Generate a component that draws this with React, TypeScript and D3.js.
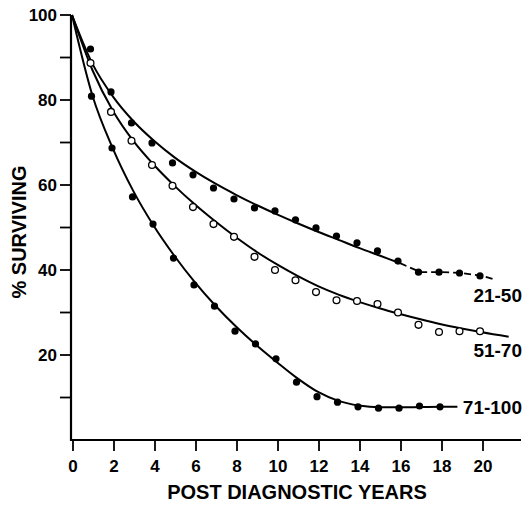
import React from 'react';
import * as d3 from 'd3';

// ---- data ----
const years = [1, 2, 3, 4, 5, 6, 7, 8, 9, 10, 11, 12, 13, 14, 15, 16, 17, 18, 19, 20];
const age21to50 = [92.0, 81.9, 74.6, 69.9, 65.2, 62.4, 59.3, 56.7, 54.6, 53.9, 51.8, 49.9, 48.0, 46.4, 44.5, 42.1, 39.5, 39.5, 39.3, 38.6];
const age51to70 = [88.7, 77.2, 70.4, 64.7, 59.8, 54.8, 50.8, 47.8, 43.1, 40.0, 37.6, 34.8, 32.9, 32.7, 32.0, 30.0, 27.1, 25.4, 25.6, 25.6];
const yearsOld = [1, 2, 3, 4, 5, 6, 7, 8, 9, 10, 11, 12, 13, 14, 15, 16, 17, 18];
const age71to100 = [80.9, 68.7, 57.2, 50.8, 42.8, 36.5, 31.5, 25.6, 22.6, 19.1, 13.6, 10.2, 8.9, 7.8, 7.5, 7.5, 8.0, 7.8];

// fitted curves
const fit21Years = [0, 1, 2, 3, 4, 5, 6, 7, 8, 9, 10, 11, 12, 13, 14, 15, 16];
const fit21Values = [100, 88.5, 80.8, 75.0, 70.4, 66.5, 63.2, 60.3, 57.7, 55.3, 53.1, 51.0, 49.0, 47.1, 45.2, 43.4, 41.6];
const tail21Years = [16, 17, 18, 19, 20, 20.6];
const tail21Values = [41.6, 39.5, 39.5, 39.3, 38.6, 37.8];
const fit51Years = [0, 1, 2, 3, 4, 5, 6, 7, 8, 9, 10, 11, 12, 13, 14, 15, 16, 17, 18, 19, 20, 21.3];
const fit51Values = [100, 87, 77.4, 70.3, 64.7, 59.8, 55.4, 51.4, 47.7, 44.3, 41.3, 38.6, 36.2, 34.2, 32.5, 31.0, 29.65, 28.4, 27.25, 26.25, 25.35, 24.3];
const fit71Years = [0, 1, 2, 3, 4, 5, 6, 7, 8, 9, 10, 11, 12, 13, 14, 15, 16, 17, 18, 18.8];
const fit71Values = [100, 81, 68.5, 58.5, 50.3, 43.3, 37.1, 31.6, 26.7, 22.3, 18.3, 14.5, 11.3, 9.2, 8.1, 7.7, 7.7, 7.75, 7.8, 7.8];

const xTicks = [0, 2, 4, 6, 8, 10, 12, 14, 16, 18, 20];
const yTicks = [10, 20, 30, 40, 50, 60, 70, 80, 90, 100];
const yTickLabels = [20, 40, 60, 80, 100];
const seriesLabels = ['21-50', '51-70', '71-100'];
const seriesLabelAt = [38.6, 25.6, 7.7];

const W = 524;
const H = 508;
const FONT = '"Liberation Sans", Arial, Helvetica, sans-serif';

export default function App() {
  const x = d3.scaleLinear().domain([0, 20]).range([72, 482]);
  const y = d3.scaleLinear().domain([0, 100]).range([440, 15]);

  const line = d3
    .line<[number, number]>()
    .x((d) => x(d[0]))
    .y((d) => y(d[1]))
    .curve(d3.curveMonotoneX);
  const straight = d3
    .line<[number, number]>()
    .x((d) => x(d[0]))
    .y((d) => y(d[1]));

  const zip = (a: number[], b: number[]) => a.map((v, i) => [v, b[i]] as [number, number]);

  const axisLeft = x(0) - 1;
  const axisBottom = y(0);

  const labelY = [y(seriesLabelAt[0]) + 26, y(seriesLabelAt[1]) + 26, y(seriesLabelAt[2]) + 7];

  return (
    <svg width={W} height={H} style={{ position: 'absolute', left: 0, top: 0, background: '#fff' }}>
      <rect x={0} y={0} width={W} height={H} fill="#fff" />
      {/* axes */}
      <line x1={axisLeft} y1={y(100)} x2={axisLeft} y2={axisBottom + 1} stroke="#000" strokeWidth={2.2} />
      <line x1={axisLeft} y1={axisBottom} x2={521} y2={axisBottom} stroke="#000" strokeWidth={2.2} />
      {yTicks.map((t) => (
        <line key={'yt' + t} x1={axisLeft - 11} x2={axisLeft} y1={y(t)} y2={y(t)} stroke="#000" strokeWidth={1.8} />
      ))}
      {yTickLabels.map((t) => (
        <text
          key={'yl' + t}
          x={axisLeft - 14}
          y={y(t) + 6}
          textAnchor="end"
          fontFamily={FONT}
          fontWeight="bold"
          fontSize={17}
        >
          {t}
        </text>
      ))}
      {xTicks.map((t) => (
        <line key={'xt' + t} x1={x(t) + 1} x2={x(t) + 1} y1={axisBottom} y2={axisBottom + 11} stroke="#000" strokeWidth={1.8} />
      ))}
      {xTicks.map((t) => (
        <text
          key={'xl' + t}
          x={x(t) + 1}
          y={472}
          textAnchor="middle"
          fontFamily={FONT}
          fontWeight="bold"
          fontSize={17}
        >
          {t}
        </text>
      ))}
      <text x={297} y={499} textAnchor="middle" fontFamily={FONT} fontWeight="bold" fontSize={20}>
        POST DIAGNOSTIC YEARS
      </text>
      <text
        transform={`translate(26,232) rotate(-90)`}
        textAnchor="middle"
        fontFamily={FONT}
        fontWeight="bold"
        fontSize={20}
      >
        % SURVIVING
      </text>

      {/* fitted curves */}
      <path d={line(zip(fit21Years, fit21Values)) || ''} fill="none" stroke="#000" strokeWidth={2} />
      <path d={straight(zip(tail21Years, tail21Values)) || ''} fill="none" stroke="#000" strokeWidth={1.8} strokeDasharray="7,4" />
      <path d={line(zip(fit51Years, fit51Values)) || ''} fill="none" stroke="#000" strokeWidth={2} />
      <path d={line(zip(fit71Years, fit71Values)) || ''} fill="none" stroke="#000" strokeWidth={2} />

      {/* observed points */}
      {years.map((yr, i) => (
        <circle key={'a' + yr} cx={x(yr) - 2} cy={y(age21to50[i])} r={3.6} fill="#000" />
      ))}
      {years.map((yr, i) => (
        <circle key={'b' + yr} cx={x(yr) - 2} cy={y(age51to70[i])} r={3.4} fill="#fff" stroke="#000" strokeWidth={1.3} />
      ))}
      {yearsOld.map((yr, i) => (
        <circle key={'c' + yr} cx={x(yr) - 1} cy={y(age71to100[i])} r={3.6} fill="#000" />
      ))}

      {/* series labels */}
      {seriesLabels.map((s, i) => (
        <text key={s} x={522} y={labelY[i]} textAnchor="end" fontFamily={FONT} fontWeight="bold" fontSize={19}>
          {s}
        </text>
      ))}
    </svg>
  );
}
